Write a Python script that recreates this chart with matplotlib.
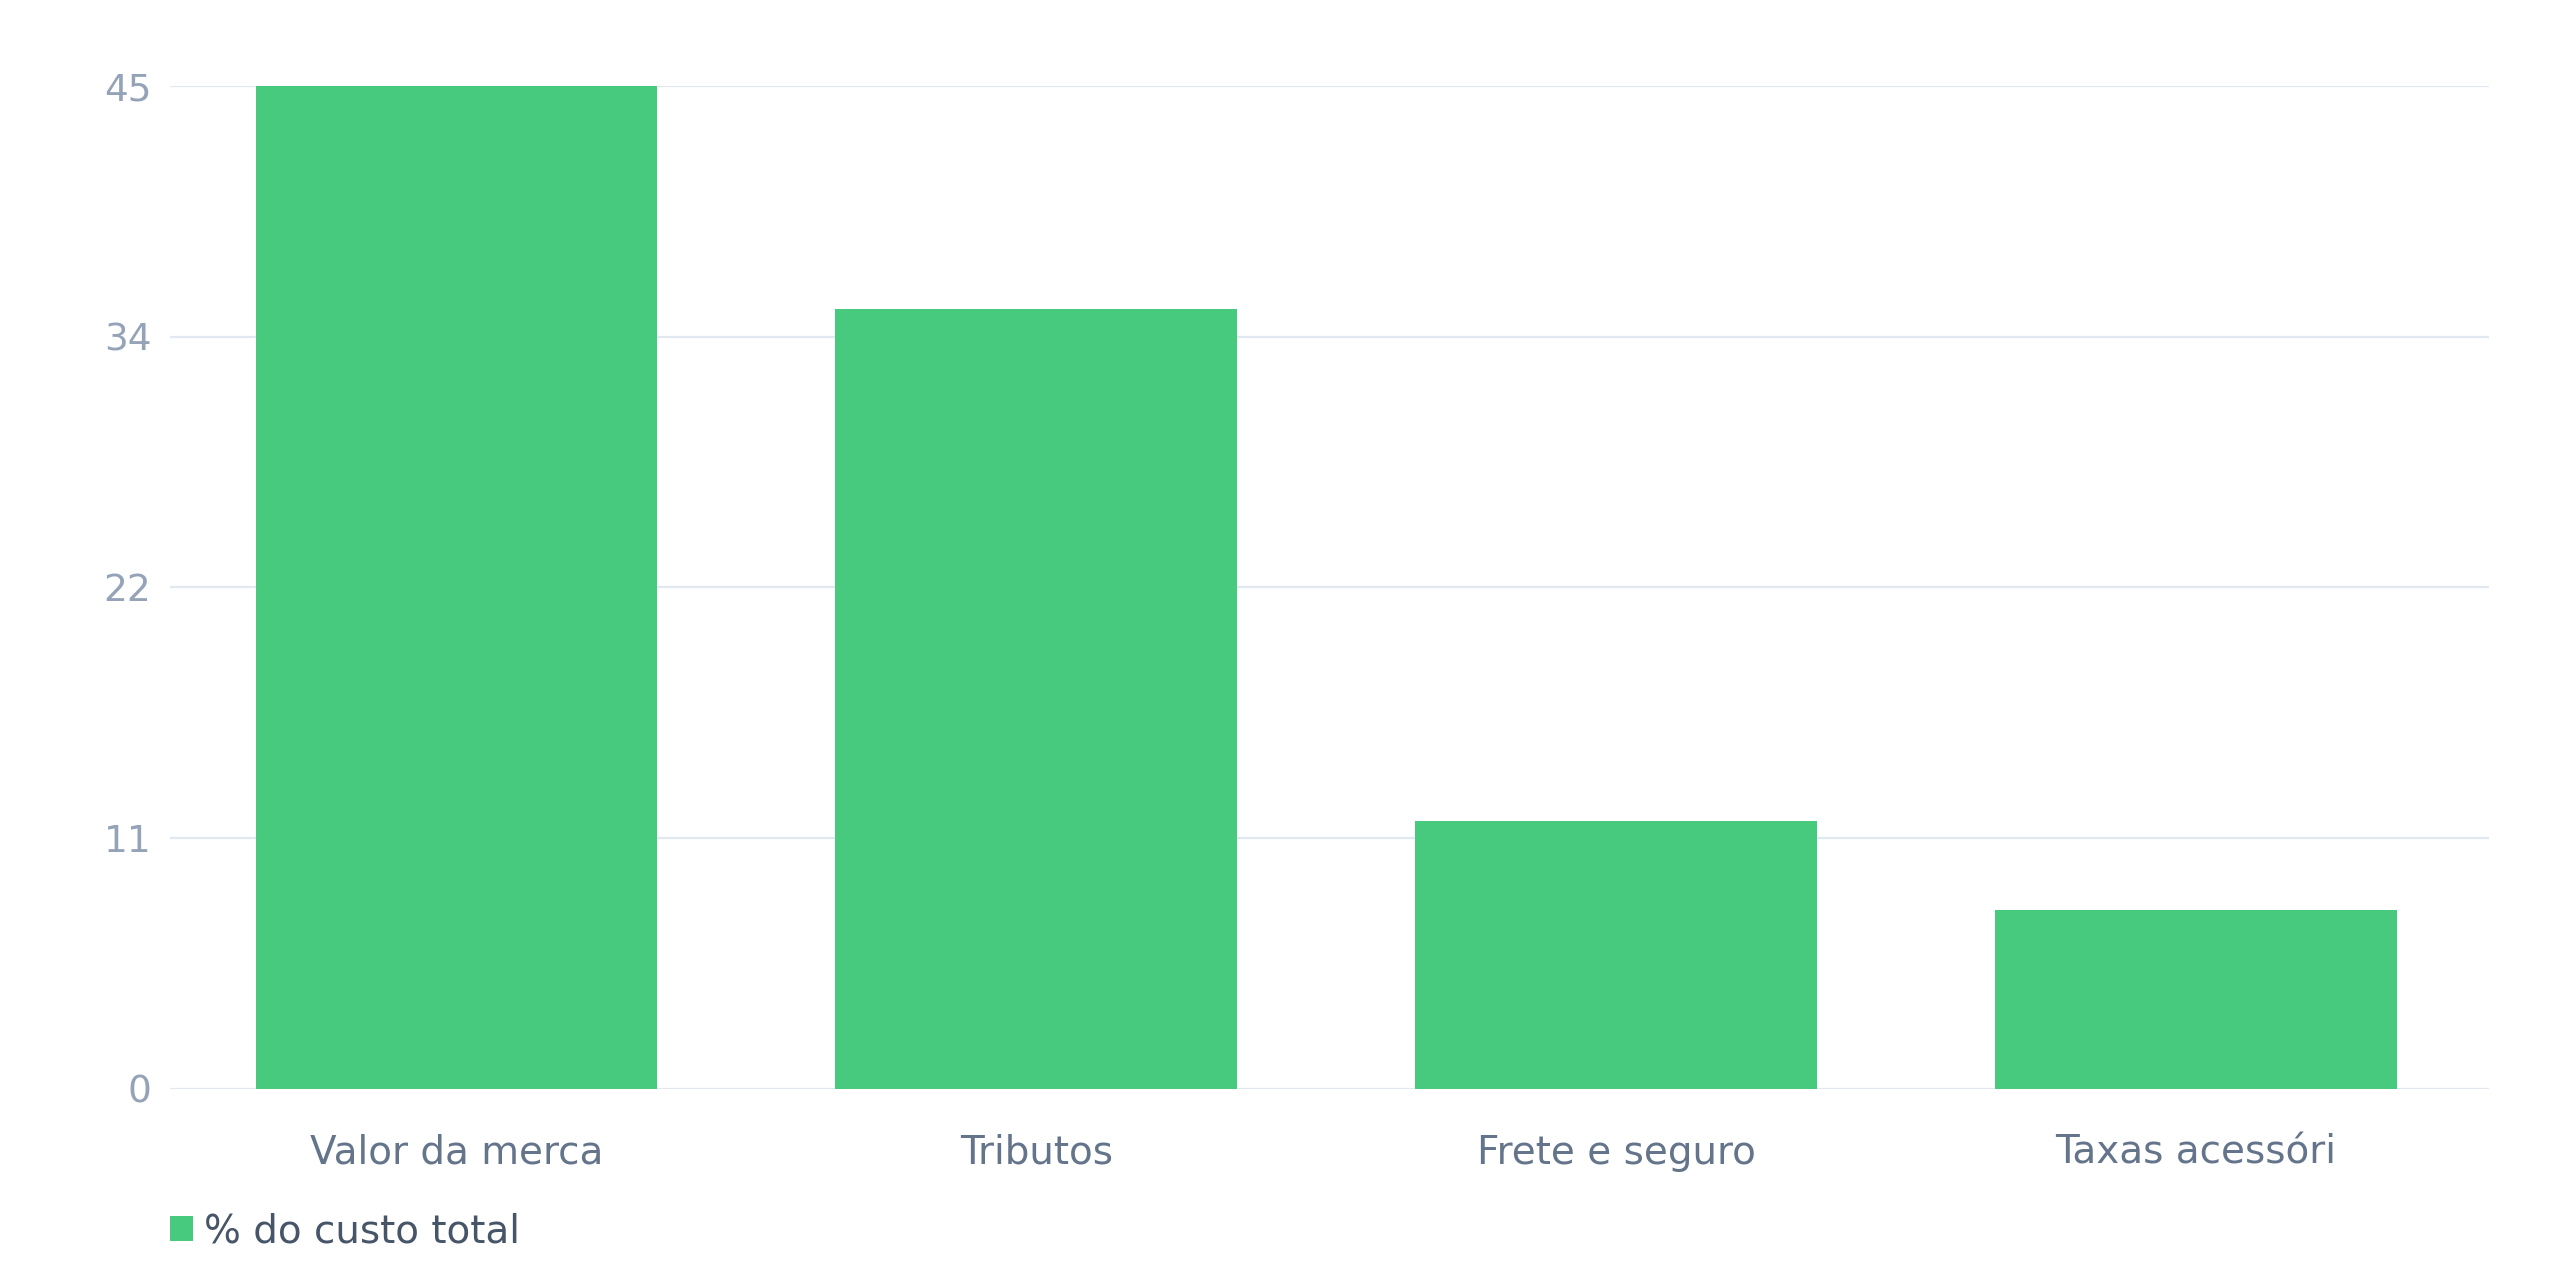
import matplotlib
matplotlib.use("Agg")
import matplotlib.pyplot as plt
from matplotlib.patches import Patch
import numpy as np

categories = ["Valor da merca", "Tributos", "Frete e seguro", "Taxas acessóri"]
values = [45, 35, 12, 8]
series_name = "% do custo total"
y_ticks = [0, 11.25, 22.5, 33.75, 45]
y_tick_labels = ["0", "11", "22", "34", "45"]

bar_color = "#48CA7E"
grid_color = "#E2E8F0"

plt.rcParams["font.family"] = ["DejaVu Sans"]

fig = plt.figure(figsize=(25.6, 12.8), dpi=100)
ax = fig.add_axes([0.0664, 0.1495, 0.9723 - 0.0664, 0.9328 - 0.1495])

x = np.arange(len(categories))
ax.bar(x, values, width=0.693, color=bar_color, zorder=3)

ax.set_xlim(-0.494, len(categories) - 0.494)
ax.set_ylim(0, 45)
ax.set_yticks(y_ticks)
ax.set_yticklabels(y_tick_labels)
ax.set_xticks(x)
ax.set_xticklabels(categories)

for s in ax.spines.values():
    s.set_visible(False)
ax.grid(axis="y", color=grid_color, linewidth=1.6, zorder=0)
ax.set_axisbelow(True)

ax.tick_params(axis="y", length=0, pad=13.5, labelsize=27, labelcolor="#94A3B8")
ax.tick_params(axis="x", length=0, pad=32.5, labelsize=28, labelcolor="#64748B")

handle = Patch(facecolor=bar_color, edgecolor="none")
fig.legend([handle], [series_name], loc="center left",
           bbox_to_anchor=(0.0664, 0.038), frameon=False,
           fontsize=28, handlelength=0.59, handleheight=0.59,
           handletextpad=0.28, borderpad=0, borderaxespad=0,
           labelcolor="#475569")

fig.savefig("out.png", dpi=100, facecolor="white")
